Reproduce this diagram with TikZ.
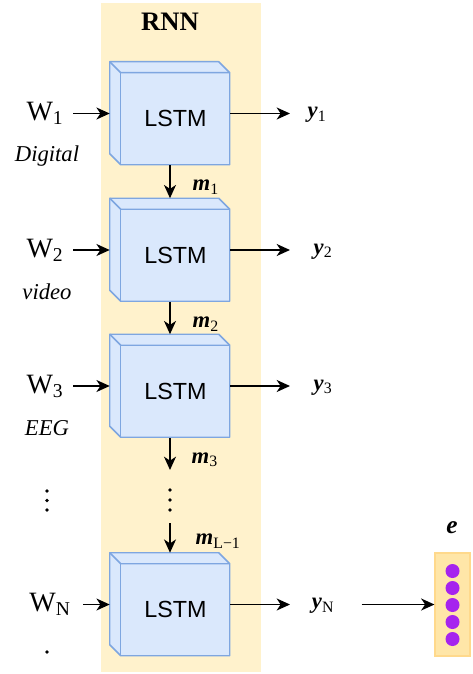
\documentclass[tikz,border=0pt]{standalone}
\usepackage{fontspec}
\setmainfont{Liberation Serif}
\setsansfont{Liberation Sans}
\usetikzlibrary{arrows.meta,positioning}

\definecolor{rnnbg}{HTML}{FFF2CC}
\definecolor{cubefill}{HTML}{DAE8FC}
\definecolor{cubeline}{HTML}{7EA6E0}
\definecolor{vecfill}{HTML}{FFE6A8}
\definecolor{vecline}{HTML}{FFD98C}
\definecolor{dotpurple}{HTML}{A623EE}

\newcommand{\bvar}[2]{\textbf{\textit{#1}}\textsubscript{\upshape\mdseries #2}}

\begin{document}
\begin{tikzpicture}[x=0.75pt,y=-0.75pt]
	\tikzstyle{RnnBox}	= [fill=rnnbg, minimum width=120pt, minimum height=501.75pt, inner sep=0pt]
	\tikzstyle{Cell}	= [minimum width=90pt, minimum height=77.25pt, inner sep=0pt]
	\tikzstyle{Cube}	= [draw=cubeline, fill=cubefill, line width=1.1pt, line join=round]
	\tikzstyle{CellText}	= [font=\sffamily\fontsize{17.5}{20}\selectfont]
	\tikzstyle{Flow}	= [-{Stealth[length=10pt, width=9pt, inset=3pt]}, line width=1.3pt]
	\tikzstyle{Wlabel}	= [font=\fontsize{21}{24}\selectfont]
	\tikzstyle{Modality}	= [font=\itshape\fontsize{17}{20}\selectfont]
	\tikzstyle{Var}	= [font=\fontsize{17}{20}\selectfont]
	\tikzstyle{Vec}	= [draw=vecline, fill=vecfill, line width=0.8pt, minimum width=26.25pt, minimum height=77.25pt, inner sep=0pt]
	\tikzstyle{Dot}	= [circle, fill=dotpurple, minimum size=10.5pt, inner sep=0pt]

	\useasboundingbox (0,0) rectangle (472,674);

	\node (rnn) at (181,337.5) [RnnBox] {};
	\node (rnnlabel) at (170,22) [font=\bfseries\fontsize{20}{24}\selectfont] {RNN};

	% LSTM cells
	\foreach \n/\y in {1/113.5, 2/250, 3/386, N/604.5} {
		\node (c\n) at (170,\y) [Cell] {};
		\draw [Cube] (c\n.north west) -- ++(109,0) -- ++(11,11) -- ++(0,92) -- ++(-109,0) -- ++(-11,-11) -- cycle;
		\draw [Cube, fill=none] (c\n.north west) -- ++(11,11) -- ++(109,0);
		\draw [Cube, fill=none] ([shift={(11,11)}]c\n.north west) -- ++(0,92);
		\node (t\n) at ([shift={(5.5,5)}]c\n.center) [CellText] {LSTM};
		\coordinate (o\n) at (290,\y);
		\draw [Flow] (c\n.east) -- (o\n);
	}

	% inputs
	\node (w1) at (45,113.5) [Wlabel] {W\textsubscript{1}};
	\node (w2) at (45,250) [Wlabel] {W\textsubscript{2}};
	\node (w3) at (45,386) [Wlabel] {W\textsubscript{3}};
	\node (wN) at (50,604.5) [Wlabel] {W\textsubscript{N}};
	\node (md1) at (47,156) [Modality] {Digital};
	\node (md2) at (47,292) [Modality] {video};
	\node (md3) at (47,428) [Modality] {EEG};

	\draw [Flow, shorten <=4pt] (w1.east) -- (c1.west);
	\draw [Flow, shorten <=4pt] (w2.east) -- (c2.west);
	\draw [Flow, shorten <=4pt] (w3.east) -- (c3.west);
	\draw [Flow, shorten <=6pt] (wN.east) -- (cN.west);

	\foreach \k in {491,500.5,510} \fill (47,\k) circle (1.8);
	\fill (47,652) circle (1.8);

	% outputs
	\node (y1) at (317,115) [Var] {\bvar{y}{1}};
	\node (y2) at (323,251.5) [Var] {\bvar{y}{2}};
	\node (y3) at (323,387.5) [Var] {\bvar{y}{3}};
	\node (yN) at (323,606) [Var] {\bvar{y}{N}};

	% memory between cells
	\coordinate (m3end) at (170,470);
	\coordinate (mLstart) at (170,523);
	\draw [Flow] (c1.south) -- (c2.north);
	\draw [Flow] (c2.south) -- (c3.north);
	\draw [Flow] (c3.south) -- (m3end);
	\draw [Flow] (mLstart) -- (cN.north);
	\foreach \k in {490,500,510} \fill (170,\k) circle (1.8);

	\node (m1) at (188,187) [Var, anchor=west] {\bvar{m}{1}};
	\node (m2) at (188,324) [Var, anchor=west] {\bvar{m}{2}};
	\node (m3) at (187,460) [Var, anchor=west] {\bvar{m}{3}};
	\node (mL) at (191,541) [Var, anchor=west] {\bvar{m}{L−1}};

	% embedding vector
	\node (evec) at (452.5,604.5) [Vec] {};
	\foreach \k in {0,...,4} \node (d\k) at (452.5,571+17*\k) [Dot] {};
	\node (elabel) at (452,528) [font=\bfseries\itshape\fontsize{19}{22}\selectfont] {e};
	\draw [Flow, shorten <=17pt] (evec.west -| yN.east) -- (evec.west);
\end{tikzpicture}
\end{document}
